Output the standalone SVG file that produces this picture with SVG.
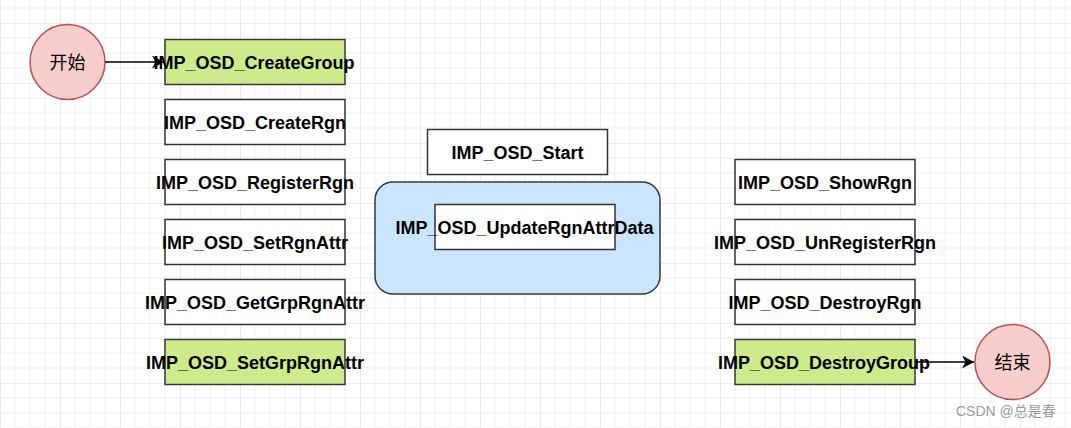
<svg xmlns="http://www.w3.org/2000/svg" width="1071" height="428" viewBox="0 0 1071 428">
  <defs>
    <pattern id="grid" x="0" y="23" width="60" height="60" patternUnits="userSpaceOnUse">
      <path d="M15 0V60M30 0V60M45 0V60M0 15H60M0 30H60M0 45H60" stroke="#efefef" stroke-width="1" fill="none"/>
      <path d="M0 0V60M0 0H60" stroke="#dcdcdc" stroke-width="1.2" fill="none"/>
    </pattern>
    <marker id="arrow" viewBox="0 0 12 13" refX="12" refY="6.5" markerWidth="12" markerHeight="13" markerUnits="userSpaceOnUse" orient="auto">
      <path d="M0 0L12 6.5L0 13L3.5 6.5Z" fill="#000"/>
    </marker>
  </defs>
  <style>
    .box{fill:#fff;stroke:#333;stroke-width:1.5}
    .green{fill:#cdeb8b;stroke:#36393d;stroke-width:1.5}
    .term{fill:#f8cecc;stroke:#b85450;stroke-width:1.5}
    .grp{fill:#cce5ff;stroke:#36393d;stroke-width:1.5}
    .lbl{font-family:"Liberation Sans",Arial,sans-serif;font-size:18px;font-weight:bold;fill:#000;text-anchor:middle}
    .cjk{font-family:"Noto Sans CJK SC",sans-serif;font-size:18px;fill:#000;text-anchor:middle}
    .edge{stroke:#000;stroke-width:1.5;fill:none}
    .wm{font-family:"Liberation Sans","Noto Sans CJK SC",sans-serif;font-size:14px;fill:#9a9a9a}
  </style>
  <rect width="1071" height="428" fill="#fff"/>
  <rect width="1071" height="428" fill="url(#grid)"/>

  <g id="start">
    <circle class="term" cx="67.5" cy="62" r="37.5"/>
    <text class="cjk" x="67.5" y="68.5">开始</text>
  </g>
  <g id="end">
    <circle class="term" cx="1012.5" cy="362" r="37.5"/>
    <text class="cjk" x="1012.5" y="368.5">结束</text>
  </g>

  <g id="edges">
    <path class="edge" d="M105 62H164" marker-end="url(#arrow)"/>
    <path class="edge" d="M915 362H974" marker-end="url(#arrow)"/>
  </g>

  <g id="createGroup">
    <rect class="green" x="165" y="39.5" width="180" height="45"/>
    <text class="lbl" x="254" y="68.5">IMP_OSD_CreateGroup</text>
  </g>
  <g id="createRgn">
    <rect class="box" x="165" y="99.5" width="180" height="45"/>
    <text class="lbl" x="255" y="128.5">IMP_OSD_CreateRgn</text>
  </g>
  <g id="registerRgn">
    <rect class="box" x="165" y="159.5" width="180" height="45"/>
    <text class="lbl" x="255" y="188.5">IMP_OSD_RegisterRgn</text>
  </g>
  <g id="setRgnAttr">
    <rect class="box" x="165" y="219.5" width="180" height="45"/>
    <text class="lbl" x="255" y="248.5">IMP_OSD_SetRgnAttr</text>
  </g>
  <g id="getGrpRgnAttr">
    <rect class="box" x="165" y="279.5" width="180" height="45"/>
    <text class="lbl" x="255" y="308.5">IMP_OSD_GetGrpRgnAttr</text>
  </g>
  <g id="setGrpRgnAttr">
    <rect class="green" x="165" y="339.5" width="180" height="45"/>
    <text class="lbl" x="255" y="368.5">IMP_OSD_SetGrpRgnAttr</text>
  </g>

  <g id="osdStart">
    <rect class="box" x="427.5" y="129.5" width="180" height="45"/>
    <text class="lbl" x="517.5" y="158.5">IMP_OSD_Start</text>
  </g>
  <g id="updateGroup">
    <rect class="grp" x="375" y="182" width="285" height="112" rx="18" ry="18"/>
  </g>
  <g id="updateRgnAttrData">
    <rect class="box" x="435" y="204.5" width="180" height="45"/>
    <text class="lbl" x="524.5" y="233.5">IMP_OSD_UpdateRgnAttrData</text>
  </g>

  <g id="showRgn">
    <rect class="box" x="735" y="159.5" width="180" height="45"/>
    <text class="lbl" x="825" y="188.5">IMP_OSD_ShowRgn</text>
  </g>
  <g id="unRegisterRgn">
    <rect class="box" x="735" y="219.5" width="180" height="45"/>
    <text class="lbl" x="825" y="248.5">IMP_OSD_UnRegisterRgn</text>
  </g>
  <g id="destroyRgn">
    <rect class="box" x="735" y="279.5" width="180" height="45"/>
    <text class="lbl" x="825" y="308.5">IMP_OSD_DestroyRgn</text>
  </g>
  <g id="destroyGroup">
    <rect class="green" x="735" y="339.5" width="180" height="45"/>
    <text class="lbl" x="824" y="368.5">IMP_OSD_DestroyGroup</text>
  </g>

  <text class="wm" x="956" y="416">CSDN @总是春</text>
</svg>
